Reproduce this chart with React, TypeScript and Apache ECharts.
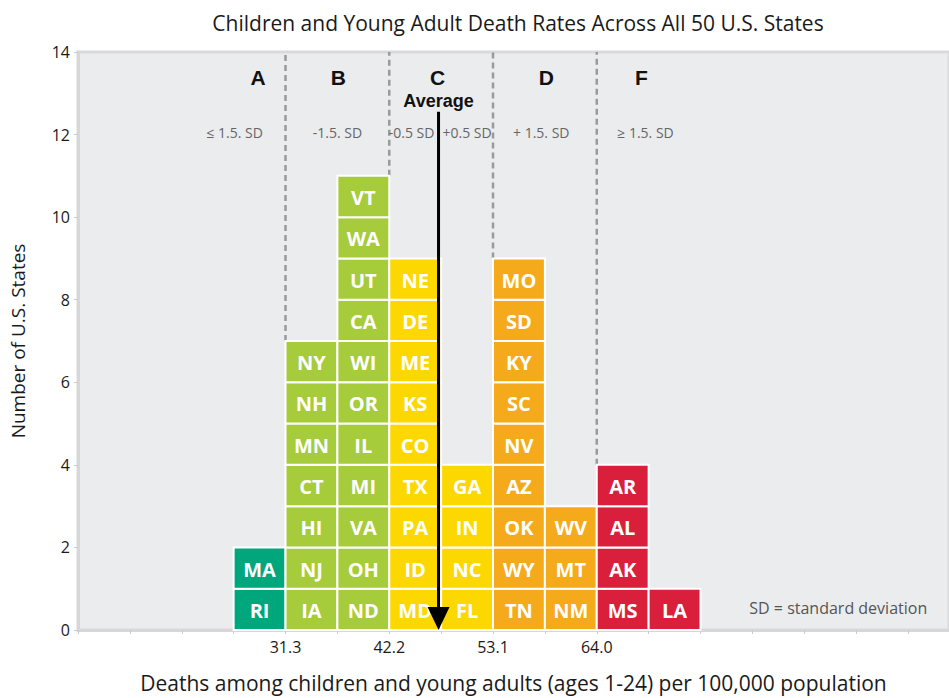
import React, { useEffect, useRef } from "react";
import * as echarts from "echarts";

// ---- data ----
const chartTitle = "Children and Young Adult Death Rates Across All 50 U.S. States";
const xAxisTitle = "Deaths among children and young adults (ages 1-24) per 100,000 population";
const yAxisTitle = "Number of U.S. States";
const yTicks = { min: 0, max: 14, step: 2 };

// x axis is measured in bins (each bin = 5.45 deaths per 100,000)
const binTickLabels = ["", "", "", "", "31.3", "", "42.2", "", "53.1", "", "64.0"];
const binCountVisible = 16.79;

const columnBins = [3, 4, 5, 6, 7, 8, 9, 10, 11];
const columnGrades = ["A", "B", "B", "C", "C", "D", "D", "F", "F"];
// states listed bottom to top
const columnStates = [
  ["RI", "MA"],
  ["IA", "NJ", "HI", "CT", "MN", "NH", "NY"],
  ["ND", "OH", "VA", "MI", "IL", "OR", "WI", "CA", "UT", "WA", "VT"],
  ["MD", "ID", "PA", "TX", "CO", "KS", "ME", "DE", "NE"],
  ["FL", "NC", "IN", "GA"],
  ["TN", "WY", "OK", "AZ", "NV", "SC", "KY", "SD", "MO"],
  ["NM", "MT", "WV"],
  ["MS", "AK", "AL", "AR"],
  ["LA"],
];

const gradeNames = ["A", "B", "C", "D", "F"];
const gradeLabelBins = [3.47, 5.02, 6.93, 9.03, 10.86];
const gradeColors: Record<string, string> = {
  A: "#00a67c",
  B: "#a6cb3b",
  C: "#fdd800",
  D: "#f5aa1c",
  F: "#d91f3c",
};
const gradeBoundaryBins = [4, 6, 8, 10];

const sdLabels = ["≤ 1.5. SD", "-1.5. SD", "-0.5 SD", "+0.5 SD", "+ 1.5. SD", "≥ 1.5. SD"];
const sdLabelBins = [3.02, 5.0, 6.43, 7.5, 8.93, 10.94];

const averageBin = 6.95;
const averageLabel = "Average";
const footNote = "SD = standard deviation";

const FONT = "'Open Sans', 'Noto Sans', sans-serif";
const BOLD_FONT = "Arial, 'Liberation Sans', sans-serif";

export default function App() {
  const ref = useRef<HTMLDivElement>(null);

  useEffect(() => {
    if (!ref.current) return;
    const chart = echarts.init(ref.current, undefined, { renderer: "svg" });

    const boxes: { bin: number; level: number; state: string; grade: string }[] = [];
    columnStates.forEach((states, ci) => {
      states.forEach((s, li) => {
        boxes.push({ bin: columnBins[ci], level: li, state: s, grade: columnGrades[ci] });
      });
    });
    const colHeight = (bin: number) => {
      const i = columnBins.indexOf(bin);
      return i >= 0 ? columnStates[i].length : 0;
    };
    const boundaries = gradeBoundaryBins.map((b) => [b, Math.max(colHeight(b - 1), colHeight(b))]);

    type Ann = { x: number; y: number; text: string; kind: string };
    const anns: Ann[] = [];
    gradeNames.forEach((g, i) => anns.push({ x: gradeLabelBins[i], y: 13.38, text: g, kind: "grade" }));
    sdLabels.forEach((t, i) => anns.push({ x: sdLabelBins[i], y: 12.06, text: t, kind: "sd" }));
    anns.push({ x: averageBin, y: 12.82, text: averageLabel, kind: "avg" });
    anns.push({ x: 16.37, y: 0.53, text: footNote, kind: "note" });

    const annStyle: Record<string, any> = {
      grade: { fontSize: 21, fontWeight: "bold", fontFamily: BOLD_FONT, fill: "#111", align: "center" },
      sd: { fontSize: 14, fontWeight: "normal", fontFamily: FONT, fill: "#666", align: "center" },
      avg: { fontSize: 18, fontWeight: "bold", fontFamily: BOLD_FONT, fill: "#111", align: "center" },
      note: { fontSize: 16, fontWeight: "normal", fontFamily: FONT, fill: "#555", align: "right" },
    };

    const option: any = {
      animation: false,
      title: {
        text: chartTitle,
        left: 513,
        top: 7,
        textAlign: "center",
        textStyle: { fontFamily: FONT, fontSize: 21, fontWeight: "normal", color: "#1a1a1a" },
      },
      grid: {
        left: 77,
        right: 0,
        top: 52,
        bottom: 68,
        show: true,
        backgroundColor: "#ebecee",
        borderColor: "#d9dadc",
        borderWidth: 3,
      },
      xAxis: {
        type: "value",
        min: 0,
        max: binCountVisible,
        interval: 1,
        name: xAxisTitle,
        nameLocation: "middle",
        nameGap: 42,
        nameTextStyle: { fontFamily: FONT, fontSize: 21, color: "#1a1a1a" },
        axisLine: { show: true, lineStyle: { color: "#d6d7d9", width: 3 } },
        axisTick: { show: true, length: 4, lineStyle: { color: "#c9cacc", width: 1 } },
        splitLine: { show: false },
        axisLabel: {
          margin: 9,
          fontFamily: FONT,
          fontSize: 16,
          color: "#1a1a1a",
          showMaxLabel: false,
          formatter: (v: number) => {
            const i = Math.round(v);
            return Math.abs(v - i) < 1e-6 && binTickLabels[i] ? binTickLabels[i] : "";
          },
        },
      },
      yAxis: {
        type: "value",
        min: yTicks.min,
        max: yTicks.max,
        interval: yTicks.step,
        name: yAxisTitle,
        nameLocation: "middle",
        nameGap: 51,
        nameRotate: 90,
        nameTextStyle: { fontFamily: FONT, fontSize: 19, color: "#1a1a1a" },
        axisLine: { show: true, lineStyle: { color: "#d6d7d9", width: 3 } },
        axisTick: { show: true, length: 4, lineStyle: { color: "#c9cacc", width: 1 } },
        splitLine: { show: false },
        axisLabel: { margin: 8, fontFamily: FONT, fontSize: 16, color: "#1a1a1a" },
      },
      series: [
        {
          type: "custom",
          name: "boundaries",
          silent: true,
          data: boundaries,
          renderItem: (params: any, api: any) => {
            const b = api.value(0);
            const h = api.value(1);
            const p0 = api.coord([b, h]);
            const p1 = api.coord([b, yTicks.max]);
            return {
              type: "line",
              shape: { x1: p0[0], y1: p0[1], x2: p1[0], y2: p1[1] },
              style: { stroke: "#9a9a9a", lineWidth: 2.5, lineDash: [6, 4] },
            };
          },
        },
        {
          type: "custom",
          name: "states",
          silent: true,
          data: boxes.map((b) => [b.bin, b.level]),
          renderItem: (params: any, api: any) => {
            const bx = boxes[params.dataIndex];
            const tl = api.coord([api.value(0), api.value(1) + 1]);
            const size = api.size([1, 1]);
            return {
              type: "group",
              children: [
                {
                  type: "rect",
                  shape: { x: tl[0], y: tl[1], width: size[0], height: size[1] },
                  style: { fill: gradeColors[bx.grade], stroke: "#ffffff", lineWidth: 2 },
                },
                {
                  type: "text",
                  style: {
                    text: bx.state,
                    x: tl[0] + size[0] / 2,
                    y: tl[1] + size[1] / 2 + 1,
                    align: "center",
                    verticalAlign: "middle",
                    fill: "#ffffff",
                    fontSize: 20,
                    fontWeight: "bold",
                    fontFamily: FONT,
                  },
                },
              ],
            };
          },
        },
        {
          type: "custom",
          name: "average",
          silent: true,
          data: [[averageBin, 12.55]],
          renderItem: (params: any, api: any) => {
            const top = api.coord([api.value(0), api.value(1)]);
            const bot = api.coord([api.value(0), 0]);
            const ah = 23;
            const aw = 11;
            return {
              type: "group",
              children: [
                {
                  type: "line",
                  shape: { x1: top[0], y1: top[1], x2: bot[0], y2: bot[1] - ah + 2 },
                  style: { stroke: "#000", lineWidth: 3 },
                },
                {
                  type: "polygon",
                  shape: {
                    points: [
                      [bot[0] - aw, bot[1] - ah],
                      [bot[0] + aw, bot[1] - ah],
                      [bot[0], bot[1]],
                    ],
                  },
                  style: { fill: "#000" },
                },
              ],
            };
          },
        },
        {
          type: "custom",
          name: "annotations",
          silent: true,
          data: anns.map((a) => [a.x, a.y]),
          renderItem: (params: any, api: any) => {
            const a = anns[params.dataIndex];
            const p = api.coord([api.value(0), api.value(1)]);
            const st = annStyle[a.kind];
            return {
              type: "text",
              style: {
                text: a.text,
                x: p[0],
                y: p[1],
                verticalAlign: "middle",
                ...st,
              },
            };
          },
        },
      ],
    };

    chart.setOption(option);
    return () => chart.dispose();
  }, []);

  return (
    <div
      ref={ref}
      style={{ position: "absolute", left: 0, top: 0, width: 949, height: 698, background: "#fff" }}
    />
  );
}
